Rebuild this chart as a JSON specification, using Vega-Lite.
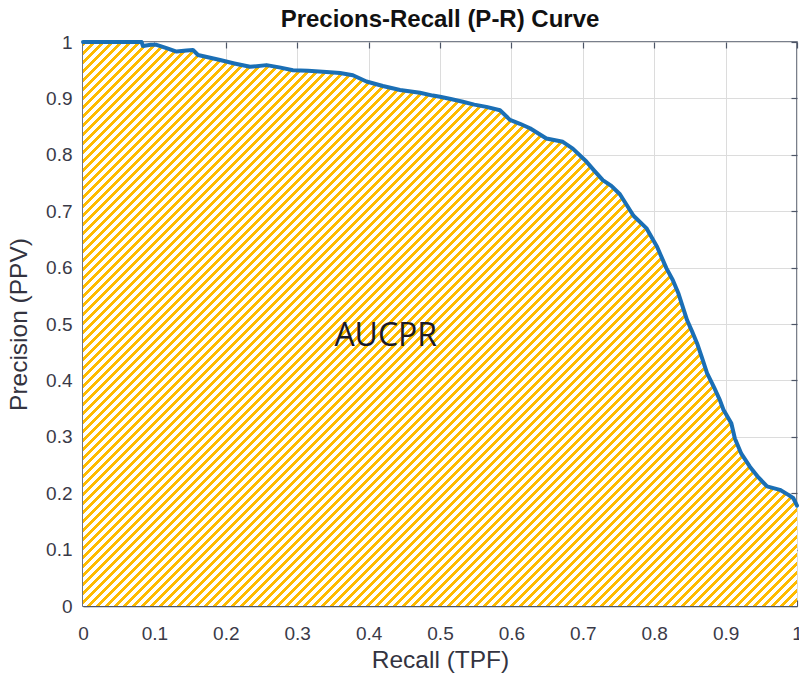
{
"$schema": "https://vega.github.io/schema/vega-lite/v6.json",
"width": 714, "height": 564,
"autosize": "none",
"padding": {"left": 83, "top": 42, "right": 2, "bottom": 69},
"background": "white",
"title": {"text": "Precions-Recall (P-R) Curve", "fontSize": 24, "font": "Liberation Sans", "fontWeight": "bold", "color": "#111111", "offset": 1, "dy": 24, "anchor": "middle", "baseline": "bottom"},
"config": {"view": {"stroke": "#4d5566", "strokeWidth": 1.5}},
"data": {"values": [
{"recall":0,"precision":1},{"recall":0.04,"precision":1},{"recall":0.082,"precision":1},{"recall":0.084,"precision":0.993},{"recall":0.095,"precision":0.995},{"recall":0.103,"precision":0.995},{"recall":0.117,"precision":0.989},{"recall":0.131,"precision":0.983},{"recall":0.145,"precision":0.985},{"recall":0.154,"precision":0.986},{"recall":0.161,"precision":0.977},{"recall":0.175,"precision":0.973},{"recall":0.192,"precision":0.968},{"recall":0.212,"precision":0.962},{"recall":0.234,"precision":0.956},{"recall":0.257,"precision":0.959},{"recall":0.275,"precision":0.955},{"recall":0.294,"precision":0.95},{"recall":0.315,"precision":0.949},{"recall":0.341,"precision":0.947},{"recall":0.36,"precision":0.945},{"recall":0.378,"precision":0.941},{"recall":0.397,"precision":0.93},{"recall":0.42,"precision":0.922},{"recall":0.444,"precision":0.915},{"recall":0.472,"precision":0.91},{"recall":0.49,"precision":0.905},{"recall":0.5,"precision":0.903},{"recall":0.515,"precision":0.899},{"recall":0.532,"precision":0.894},{"recall":0.548,"precision":0.889},{"recall":0.565,"precision":0.885},{"recall":0.584,"precision":0.879},{"recall":0.598,"precision":0.862},{"recall":0.612,"precision":0.855},{"recall":0.626,"precision":0.847},{"recall":0.649,"precision":0.829},{"recall":0.672,"precision":0.823},{"recall":0.686,"precision":0.811},{"recall":0.705,"precision":0.788},{"recall":0.716,"precision":0.772},{"recall":0.728,"precision":0.755},{"recall":0.74,"precision":0.745},{"recall":0.752,"precision":0.73},{"recall":0.771,"precision":0.692},{"recall":0.789,"precision":0.67},{"recall":0.804,"precision":0.637},{"recall":0.817,"precision":0.599},{"recall":0.826,"precision":0.578},{"recall":0.834,"precision":0.554},{"recall":0.846,"precision":0.507},{"recall":0.853,"precision":0.487},{"recall":0.86,"precision":0.466},{"recall":0.867,"precision":0.44},{"recall":0.874,"precision":0.413},{"recall":0.884,"precision":0.387},{"recall":0.892,"precision":0.365},{"recall":0.897,"precision":0.348},{"recall":0.908,"precision":0.324},{"recall":0.913,"precision":0.297},{"recall":0.922,"precision":0.27},{"recall":0.934,"precision":0.247},{"recall":0.946,"precision":0.228},{"recall":0.958,"precision":0.212},{"recall":0.976,"precision":0.206},{"recall":0.988,"precision":0.197},{"recall":0.995,"precision":0.191},{"recall":1,"precision":0.178}
]},
"layer": [
{
"mark": {"type": "area", "interpolate": "linear", "color": {"gradient": "linear", "x1": 0, "y1": 0, "x2": 1.109, "y2": 0.876, "stops": [
{"offset":0,"color":"#fb0"},{"offset":0.0035,"color":"#fb0"},{"offset":0.0035,"color":"#fff"},{"offset":0.007,"color":"#fff"},
{"offset":0.007,"color":"#fb0"},{"offset":0.0105,"color":"#fb0"},{"offset":0.0105,"color":"#fff"},{"offset":0.014,"color":"#fff"},
{"offset":0.014,"color":"#fb0"},{"offset":0.0175,"color":"#fb0"},{"offset":0.0175,"color":"#fff"},{"offset":0.021,"color":"#fff"},
{"offset":0.021,"color":"#fb0"},{"offset":0.0245,"color":"#fb0"},{"offset":0.0245,"color":"#fff"},{"offset":0.028,"color":"#fff"},
{"offset":0.028,"color":"#fb0"},{"offset":0.0315,"color":"#fb0"},{"offset":0.0315,"color":"#fff"},{"offset":0.035,"color":"#fff"},
{"offset":0.035,"color":"#fb0"},{"offset":0.0385,"color":"#fb0"},{"offset":0.0385,"color":"#fff"},{"offset":0.042,"color":"#fff"},
{"offset":0.042,"color":"#fb0"},{"offset":0.0455,"color":"#fb0"},{"offset":0.0455,"color":"#fff"},{"offset":0.049,"color":"#fff"},
{"offset":0.049,"color":"#fb0"},{"offset":0.0525,"color":"#fb0"},{"offset":0.0525,"color":"#fff"},{"offset":0.056,"color":"#fff"},
{"offset":0.056,"color":"#fb0"},{"offset":0.0595,"color":"#fb0"},{"offset":0.0595,"color":"#fff"},{"offset":0.063,"color":"#fff"},
{"offset":0.063,"color":"#fb0"},{"offset":0.0665,"color":"#fb0"},{"offset":0.0665,"color":"#fff"},{"offset":0.07,"color":"#fff"},
{"offset":0.07,"color":"#fb0"},{"offset":0.0735,"color":"#fb0"},{"offset":0.0735,"color":"#fff"},{"offset":0.077,"color":"#fff"},
{"offset":0.077,"color":"#fb0"},{"offset":0.0805,"color":"#fb0"},{"offset":0.0805,"color":"#fff"},{"offset":0.084,"color":"#fff"},
{"offset":0.084,"color":"#fb0"},{"offset":0.0875,"color":"#fb0"},{"offset":0.0875,"color":"#fff"},{"offset":0.091,"color":"#fff"},
{"offset":0.091,"color":"#fb0"},{"offset":0.0945,"color":"#fb0"},{"offset":0.0945,"color":"#fff"},{"offset":0.098,"color":"#fff"},
{"offset":0.098,"color":"#fb0"},{"offset":0.1015,"color":"#fb0"},{"offset":0.1015,"color":"#fff"},{"offset":0.105,"color":"#fff"},
{"offset":0.105,"color":"#fb0"},{"offset":0.1085,"color":"#fb0"},{"offset":0.1085,"color":"#fff"},{"offset":0.112,"color":"#fff"},
{"offset":0.112,"color":"#fb0"},{"offset":0.1155,"color":"#fb0"},{"offset":0.1155,"color":"#fff"},{"offset":0.119,"color":"#fff"},
{"offset":0.119,"color":"#fb0"},{"offset":0.1225,"color":"#fb0"},{"offset":0.1225,"color":"#fff"},{"offset":0.126,"color":"#fff"},
{"offset":0.126,"color":"#fb0"},{"offset":0.1295,"color":"#fb0"},{"offset":0.1295,"color":"#fff"},{"offset":0.133,"color":"#fff"},
{"offset":0.133,"color":"#fb0"},{"offset":0.1365,"color":"#fb0"},{"offset":0.1365,"color":"#fff"},{"offset":0.14,"color":"#fff"},
{"offset":0.14,"color":"#fb0"},{"offset":0.1435,"color":"#fb0"},{"offset":0.1435,"color":"#fff"},{"offset":0.147,"color":"#fff"},
{"offset":0.147,"color":"#fb0"},{"offset":0.1505,"color":"#fb0"},{"offset":0.1505,"color":"#fff"},{"offset":0.154,"color":"#fff"},
{"offset":0.154,"color":"#fb0"},{"offset":0.1575,"color":"#fb0"},{"offset":0.1575,"color":"#fff"},{"offset":0.161,"color":"#fff"},
{"offset":0.161,"color":"#fb0"},{"offset":0.1645,"color":"#fb0"},{"offset":0.1645,"color":"#fff"},{"offset":0.168,"color":"#fff"},
{"offset":0.168,"color":"#fb0"},{"offset":0.1715,"color":"#fb0"},{"offset":0.1715,"color":"#fff"},{"offset":0.175,"color":"#fff"},
{"offset":0.175,"color":"#fb0"},{"offset":0.1785,"color":"#fb0"},{"offset":0.1785,"color":"#fff"},{"offset":0.182,"color":"#fff"},
{"offset":0.182,"color":"#fb0"},{"offset":0.1855,"color":"#fb0"},{"offset":0.1855,"color":"#fff"},{"offset":0.189,"color":"#fff"},
{"offset":0.189,"color":"#fb0"},{"offset":0.1925,"color":"#fb0"},{"offset":0.1925,"color":"#fff"},{"offset":0.196,"color":"#fff"},
{"offset":0.196,"color":"#fb0"},{"offset":0.1995,"color":"#fb0"},{"offset":0.1995,"color":"#fff"},{"offset":0.203,"color":"#fff"},
{"offset":0.203,"color":"#fb0"},{"offset":0.2065,"color":"#fb0"},{"offset":0.2065,"color":"#fff"},{"offset":0.21,"color":"#fff"},
{"offset":0.21,"color":"#fb0"},{"offset":0.2135,"color":"#fb0"},{"offset":0.2135,"color":"#fff"},{"offset":0.217,"color":"#fff"},
{"offset":0.217,"color":"#fb0"},{"offset":0.2205,"color":"#fb0"},{"offset":0.2205,"color":"#fff"},{"offset":0.224,"color":"#fff"},
{"offset":0.224,"color":"#fb0"},{"offset":0.2275,"color":"#fb0"},{"offset":0.2275,"color":"#fff"},{"offset":0.231,"color":"#fff"},
{"offset":0.231,"color":"#fb0"},{"offset":0.2345,"color":"#fb0"},{"offset":0.2345,"color":"#fff"},{"offset":0.238,"color":"#fff"},
{"offset":0.238,"color":"#fb0"},{"offset":0.2415,"color":"#fb0"},{"offset":0.2415,"color":"#fff"},{"offset":0.245,"color":"#fff"},
{"offset":0.245,"color":"#fb0"},{"offset":0.2485,"color":"#fb0"},{"offset":0.2485,"color":"#fff"},{"offset":0.252,"color":"#fff"},
{"offset":0.252,"color":"#fb0"},{"offset":0.2555,"color":"#fb0"},{"offset":0.2555,"color":"#fff"},{"offset":0.259,"color":"#fff"},
{"offset":0.259,"color":"#fb0"},{"offset":0.2625,"color":"#fb0"},{"offset":0.2625,"color":"#fff"},{"offset":0.266,"color":"#fff"},
{"offset":0.266,"color":"#fb0"},{"offset":0.2695,"color":"#fb0"},{"offset":0.2695,"color":"#fff"},{"offset":0.273,"color":"#fff"},
{"offset":0.273,"color":"#fb0"},{"offset":0.2765,"color":"#fb0"},{"offset":0.2765,"color":"#fff"},{"offset":0.28,"color":"#fff"},
{"offset":0.28,"color":"#fb0"},{"offset":0.2835,"color":"#fb0"},{"offset":0.2835,"color":"#fff"},{"offset":0.287,"color":"#fff"},
{"offset":0.287,"color":"#fb0"},{"offset":0.2905,"color":"#fb0"},{"offset":0.2905,"color":"#fff"},{"offset":0.294,"color":"#fff"},
{"offset":0.294,"color":"#fb0"},{"offset":0.2975,"color":"#fb0"},{"offset":0.2975,"color":"#fff"},{"offset":0.301,"color":"#fff"},
{"offset":0.301,"color":"#fb0"},{"offset":0.3045,"color":"#fb0"},{"offset":0.3045,"color":"#fff"},{"offset":0.308,"color":"#fff"},
{"offset":0.308,"color":"#fb0"},{"offset":0.3115,"color":"#fb0"},{"offset":0.3115,"color":"#fff"},{"offset":0.315,"color":"#fff"},
{"offset":0.315,"color":"#fb0"},{"offset":0.3185,"color":"#fb0"},{"offset":0.3185,"color":"#fff"},{"offset":0.322,"color":"#fff"},
{"offset":0.322,"color":"#fb0"},{"offset":0.3255,"color":"#fb0"},{"offset":0.3255,"color":"#fff"},{"offset":0.329,"color":"#fff"},
{"offset":0.329,"color":"#fb0"},{"offset":0.3325,"color":"#fb0"},{"offset":0.3325,"color":"#fff"},{"offset":0.336,"color":"#fff"},
{"offset":0.336,"color":"#fb0"},{"offset":0.3395,"color":"#fb0"},{"offset":0.3395,"color":"#fff"},{"offset":0.343,"color":"#fff"},
{"offset":0.343,"color":"#fb0"},{"offset":0.3465,"color":"#fb0"},{"offset":0.3465,"color":"#fff"},{"offset":0.35,"color":"#fff"},
{"offset":0.35,"color":"#fb0"},{"offset":0.3535,"color":"#fb0"},{"offset":0.3535,"color":"#fff"},{"offset":0.357,"color":"#fff"},
{"offset":0.357,"color":"#fb0"},{"offset":0.3605,"color":"#fb0"},{"offset":0.3605,"color":"#fff"},{"offset":0.364,"color":"#fff"},
{"offset":0.364,"color":"#fb0"},{"offset":0.3675,"color":"#fb0"},{"offset":0.3675,"color":"#fff"},{"offset":0.371,"color":"#fff"},
{"offset":0.371,"color":"#fb0"},{"offset":0.3745,"color":"#fb0"},{"offset":0.3745,"color":"#fff"},{"offset":0.378,"color":"#fff"},
{"offset":0.378,"color":"#fb0"},{"offset":0.3815,"color":"#fb0"},{"offset":0.3815,"color":"#fff"},{"offset":0.385,"color":"#fff"},
{"offset":0.385,"color":"#fb0"},{"offset":0.3885,"color":"#fb0"},{"offset":0.3885,"color":"#fff"},{"offset":0.392,"color":"#fff"},
{"offset":0.392,"color":"#fb0"},{"offset":0.3955,"color":"#fb0"},{"offset":0.3955,"color":"#fff"},{"offset":0.399,"color":"#fff"},
{"offset":0.399,"color":"#fb0"},{"offset":0.4025,"color":"#fb0"},{"offset":0.4025,"color":"#fff"},{"offset":0.406,"color":"#fff"},
{"offset":0.406,"color":"#fb0"},{"offset":0.4095,"color":"#fb0"},{"offset":0.4095,"color":"#fff"},{"offset":0.413,"color":"#fff"},
{"offset":0.413,"color":"#fb0"},{"offset":0.4165,"color":"#fb0"},{"offset":0.4165,"color":"#fff"},{"offset":0.42,"color":"#fff"},
{"offset":0.42,"color":"#fb0"},{"offset":0.4235,"color":"#fb0"},{"offset":0.4235,"color":"#fff"},{"offset":0.427,"color":"#fff"},
{"offset":0.427,"color":"#fb0"},{"offset":0.4305,"color":"#fb0"},{"offset":0.4305,"color":"#fff"},{"offset":0.434,"color":"#fff"},
{"offset":0.434,"color":"#fb0"},{"offset":0.4375,"color":"#fb0"},{"offset":0.4375,"color":"#fff"},{"offset":0.441,"color":"#fff"},
{"offset":0.441,"color":"#fb0"},{"offset":0.4445,"color":"#fb0"},{"offset":0.4445,"color":"#fff"},{"offset":0.448,"color":"#fff"},
{"offset":0.448,"color":"#fb0"},{"offset":0.4515,"color":"#fb0"},{"offset":0.4515,"color":"#fff"},{"offset":0.455,"color":"#fff"},
{"offset":0.455,"color":"#fb0"},{"offset":0.4585,"color":"#fb0"},{"offset":0.4585,"color":"#fff"},{"offset":0.462,"color":"#fff"},
{"offset":0.462,"color":"#fb0"},{"offset":0.4655,"color":"#fb0"},{"offset":0.4655,"color":"#fff"},{"offset":0.469,"color":"#fff"},
{"offset":0.469,"color":"#fb0"},{"offset":0.4725,"color":"#fb0"},{"offset":0.4725,"color":"#fff"},{"offset":0.476,"color":"#fff"},
{"offset":0.476,"color":"#fb0"},{"offset":0.4795,"color":"#fb0"},{"offset":0.4795,"color":"#fff"},{"offset":0.483,"color":"#fff"},
{"offset":0.483,"color":"#fb0"},{"offset":0.4865,"color":"#fb0"},{"offset":0.4865,"color":"#fff"},{"offset":0.49,"color":"#fff"},
{"offset":0.49,"color":"#fb0"},{"offset":0.4935,"color":"#fb0"},{"offset":0.4935,"color":"#fff"},{"offset":0.497,"color":"#fff"},
{"offset":0.497,"color":"#fb0"},{"offset":0.5005,"color":"#fb0"},{"offset":0.5005,"color":"#fff"},{"offset":0.504,"color":"#fff"},
{"offset":0.504,"color":"#fb0"},{"offset":0.5075,"color":"#fb0"},{"offset":0.5075,"color":"#fff"},{"offset":0.511,"color":"#fff"},
{"offset":0.511,"color":"#fb0"},{"offset":0.5145,"color":"#fb0"},{"offset":0.5145,"color":"#fff"},{"offset":0.518,"color":"#fff"},
{"offset":0.518,"color":"#fb0"},{"offset":0.5215,"color":"#fb0"},{"offset":0.5215,"color":"#fff"},{"offset":0.525,"color":"#fff"},
{"offset":0.525,"color":"#fb0"},{"offset":0.5285,"color":"#fb0"},{"offset":0.5285,"color":"#fff"},{"offset":0.532,"color":"#fff"},
{"offset":0.532,"color":"#fb0"},{"offset":0.5355,"color":"#fb0"},{"offset":0.5355,"color":"#fff"},{"offset":0.539,"color":"#fff"},
{"offset":0.539,"color":"#fb0"},{"offset":0.5425,"color":"#fb0"},{"offset":0.5425,"color":"#fff"},{"offset":0.546,"color":"#fff"},
{"offset":0.546,"color":"#fb0"},{"offset":0.5495,"color":"#fb0"},{"offset":0.5495,"color":"#fff"},{"offset":0.553,"color":"#fff"},
{"offset":0.553,"color":"#fb0"},{"offset":0.5565,"color":"#fb0"},{"offset":0.5565,"color":"#fff"},{"offset":0.56,"color":"#fff"},
{"offset":0.56,"color":"#fb0"},{"offset":0.5635,"color":"#fb0"},{"offset":0.5635,"color":"#fff"},{"offset":0.567,"color":"#fff"},
{"offset":0.567,"color":"#fb0"},{"offset":0.5705,"color":"#fb0"},{"offset":0.5705,"color":"#fff"},{"offset":0.574,"color":"#fff"},
{"offset":0.574,"color":"#fb0"},{"offset":0.5775,"color":"#fb0"},{"offset":0.5775,"color":"#fff"},{"offset":0.581,"color":"#fff"},
{"offset":0.581,"color":"#fb0"},{"offset":0.5845,"color":"#fb0"},{"offset":0.5845,"color":"#fff"},{"offset":0.588,"color":"#fff"},
{"offset":0.588,"color":"#fb0"},{"offset":0.5915,"color":"#fb0"},{"offset":0.5915,"color":"#fff"},{"offset":0.595,"color":"#fff"},
{"offset":0.595,"color":"#fb0"},{"offset":0.5985,"color":"#fb0"},{"offset":0.5985,"color":"#fff"},{"offset":0.602,"color":"#fff"},
{"offset":0.602,"color":"#fb0"},{"offset":0.6055,"color":"#fb0"},{"offset":0.6055,"color":"#fff"},{"offset":0.609,"color":"#fff"},
{"offset":0.609,"color":"#fb0"},{"offset":0.6125,"color":"#fb0"},{"offset":0.6125,"color":"#fff"},{"offset":0.616,"color":"#fff"},
{"offset":0.616,"color":"#fb0"},{"offset":0.6195,"color":"#fb0"},{"offset":0.6195,"color":"#fff"},{"offset":0.623,"color":"#fff"},
{"offset":0.623,"color":"#fb0"},{"offset":0.6265,"color":"#fb0"},{"offset":0.6265,"color":"#fff"},{"offset":0.63,"color":"#fff"},
{"offset":0.63,"color":"#fb0"},{"offset":0.6335,"color":"#fb0"},{"offset":0.6335,"color":"#fff"},{"offset":0.637,"color":"#fff"},
{"offset":0.637,"color":"#fb0"},{"offset":0.6405,"color":"#fb0"},{"offset":0.6405,"color":"#fff"},{"offset":0.644,"color":"#fff"},
{"offset":0.644,"color":"#fb0"},{"offset":0.6475,"color":"#fb0"},{"offset":0.6475,"color":"#fff"},{"offset":0.651,"color":"#fff"},
{"offset":0.651,"color":"#fb0"},{"offset":0.6545,"color":"#fb0"},{"offset":0.6545,"color":"#fff"},{"offset":0.658,"color":"#fff"},
{"offset":0.658,"color":"#fb0"},{"offset":0.6615,"color":"#fb0"},{"offset":0.6615,"color":"#fff"},{"offset":0.665,"color":"#fff"},
{"offset":0.665,"color":"#fb0"},{"offset":0.6685,"color":"#fb0"},{"offset":0.6685,"color":"#fff"},{"offset":0.672,"color":"#fff"},
{"offset":0.672,"color":"#fb0"},{"offset":0.6755,"color":"#fb0"},{"offset":0.6755,"color":"#fff"},{"offset":0.679,"color":"#fff"},
{"offset":0.679,"color":"#fb0"},{"offset":0.6825,"color":"#fb0"},{"offset":0.6825,"color":"#fff"},{"offset":0.686,"color":"#fff"},
{"offset":0.686,"color":"#fb0"},{"offset":0.6895,"color":"#fb0"},{"offset":0.6895,"color":"#fff"},{"offset":0.693,"color":"#fff"},
{"offset":0.693,"color":"#fb0"},{"offset":0.6965,"color":"#fb0"},{"offset":0.6965,"color":"#fff"},{"offset":0.7,"color":"#fff"},
{"offset":0.7,"color":"#fb0"},{"offset":0.7035,"color":"#fb0"},{"offset":0.7035,"color":"#fff"},{"offset":0.707,"color":"#fff"},
{"offset":0.707,"color":"#fb0"},{"offset":0.7105,"color":"#fb0"},{"offset":0.7105,"color":"#fff"},{"offset":0.714,"color":"#fff"},
{"offset":0.714,"color":"#fb0"},{"offset":0.7175,"color":"#fb0"},{"offset":0.7175,"color":"#fff"},{"offset":0.721,"color":"#fff"},
{"offset":0.721,"color":"#fb0"},{"offset":0.7245,"color":"#fb0"},{"offset":0.7245,"color":"#fff"},{"offset":0.728,"color":"#fff"},
{"offset":0.728,"color":"#fb0"},{"offset":0.7315,"color":"#fb0"},{"offset":0.7315,"color":"#fff"},{"offset":0.735,"color":"#fff"},
{"offset":0.735,"color":"#fb0"},{"offset":0.7385,"color":"#fb0"},{"offset":0.7385,"color":"#fff"},{"offset":0.742,"color":"#fff"},
{"offset":0.742,"color":"#fb0"},{"offset":0.7455,"color":"#fb0"},{"offset":0.7455,"color":"#fff"},{"offset":0.749,"color":"#fff"},
{"offset":0.749,"color":"#fb0"},{"offset":0.7525,"color":"#fb0"},{"offset":0.7525,"color":"#fff"},{"offset":0.756,"color":"#fff"},
{"offset":0.756,"color":"#fb0"},{"offset":0.7595,"color":"#fb0"},{"offset":0.7595,"color":"#fff"},{"offset":0.763,"color":"#fff"},
{"offset":0.763,"color":"#fb0"},{"offset":0.7665,"color":"#fb0"},{"offset":0.7665,"color":"#fff"},{"offset":0.77,"color":"#fff"},
{"offset":0.77,"color":"#fb0"},{"offset":0.7735,"color":"#fb0"},{"offset":0.7735,"color":"#fff"},{"offset":0.777,"color":"#fff"},
{"offset":0.777,"color":"#fb0"},{"offset":0.7805,"color":"#fb0"},{"offset":0.7805,"color":"#fff"},{"offset":0.784,"color":"#fff"},
{"offset":0.784,"color":"#fb0"},{"offset":0.7875,"color":"#fb0"},{"offset":0.7875,"color":"#fff"},{"offset":0.791,"color":"#fff"},
{"offset":0.791,"color":"#fb0"},{"offset":0.7945,"color":"#fb0"},{"offset":0.7945,"color":"#fff"},{"offset":0.798,"color":"#fff"},
{"offset":0.798,"color":"#fb0"},{"offset":0.8015,"color":"#fb0"},{"offset":0.8015,"color":"#fff"},{"offset":0.805,"color":"#fff"},
{"offset":0.805,"color":"#fb0"},{"offset":0.8085,"color":"#fb0"},{"offset":0.8085,"color":"#fff"},{"offset":0.812,"color":"#fff"},
{"offset":0.812,"color":"#fb0"},{"offset":0.8155,"color":"#fb0"},{"offset":0.8155,"color":"#fff"},{"offset":0.819,"color":"#fff"},
{"offset":0.819,"color":"#fb0"},{"offset":0.8225,"color":"#fb0"},{"offset":0.8225,"color":"#fff"},{"offset":0.826,"color":"#fff"},
{"offset":0.826,"color":"#fb0"},{"offset":0.8295,"color":"#fb0"},{"offset":0.8295,"color":"#fff"},{"offset":0.833,"color":"#fff"},
{"offset":0.833,"color":"#fb0"},{"offset":0.8365,"color":"#fb0"},{"offset":0.8365,"color":"#fff"},{"offset":0.84,"color":"#fff"},
{"offset":0.84,"color":"#fb0"},{"offset":0.8435,"color":"#fb0"},{"offset":0.8435,"color":"#fff"},{"offset":0.847,"color":"#fff"},
{"offset":0.847,"color":"#fb0"},{"offset":0.8505,"color":"#fb0"},{"offset":0.8505,"color":"#fff"},{"offset":0.854,"color":"#fff"},
{"offset":0.854,"color":"#fb0"},{"offset":0.8575,"color":"#fb0"},{"offset":0.8575,"color":"#fff"},{"offset":0.861,"color":"#fff"},
{"offset":0.861,"color":"#fb0"},{"offset":0.8645,"color":"#fb0"},{"offset":0.8645,"color":"#fff"},{"offset":0.868,"color":"#fff"},
{"offset":0.868,"color":"#fb0"},{"offset":0.8715,"color":"#fb0"},{"offset":0.8715,"color":"#fff"},{"offset":0.875,"color":"#fff"},
{"offset":0.875,"color":"#fb0"},{"offset":0.8785,"color":"#fb0"},{"offset":0.8785,"color":"#fff"},{"offset":0.882,"color":"#fff"},
{"offset":0.882,"color":"#fb0"},{"offset":0.8855,"color":"#fb0"},{"offset":0.8855,"color":"#fff"},{"offset":0.889,"color":"#fff"},
{"offset":0.889,"color":"#fb0"},{"offset":0.8925,"color":"#fb0"},{"offset":0.8925,"color":"#fff"},{"offset":0.896,"color":"#fff"},
{"offset":0.896,"color":"#fb0"},{"offset":0.8995,"color":"#fb0"},{"offset":0.8995,"color":"#fff"},{"offset":0.903,"color":"#fff"},
{"offset":0.903,"color":"#fb0"},{"offset":0.9065,"color":"#fb0"},{"offset":0.9065,"color":"#fff"},{"offset":0.91,"color":"#fff"},
{"offset":0.91,"color":"#fb0"},{"offset":0.9135,"color":"#fb0"},{"offset":0.9135,"color":"#fff"},{"offset":0.917,"color":"#fff"},
{"offset":0.917,"color":"#fb0"},{"offset":0.9205,"color":"#fb0"},{"offset":0.9205,"color":"#fff"},{"offset":0.924,"color":"#fff"},
{"offset":0.924,"color":"#fb0"},{"offset":0.9275,"color":"#fb0"},{"offset":0.9275,"color":"#fff"},{"offset":0.931,"color":"#fff"},
{"offset":0.931,"color":"#fb0"},{"offset":0.9345,"color":"#fb0"},{"offset":0.9345,"color":"#fff"},{"offset":0.938,"color":"#fff"},
{"offset":0.938,"color":"#fb0"},{"offset":0.9415,"color":"#fb0"},{"offset":0.9415,"color":"#fff"},{"offset":0.945,"color":"#fff"},
{"offset":0.945,"color":"#fb0"},{"offset":0.9485,"color":"#fb0"},{"offset":0.9485,"color":"#fff"},{"offset":0.952,"color":"#fff"},
{"offset":0.952,"color":"#fb0"},{"offset":0.9555,"color":"#fb0"},{"offset":0.9555,"color":"#fff"},{"offset":0.959,"color":"#fff"},
{"offset":0.959,"color":"#fb0"},{"offset":0.9625,"color":"#fb0"},{"offset":0.9625,"color":"#fff"},{"offset":0.966,"color":"#fff"},
{"offset":0.966,"color":"#fb0"},{"offset":0.9695,"color":"#fb0"},{"offset":0.9695,"color":"#fff"},{"offset":0.973,"color":"#fff"},
{"offset":0.973,"color":"#fb0"},{"offset":0.9765,"color":"#fb0"},{"offset":0.9765,"color":"#fff"},{"offset":0.98,"color":"#fff"},
{"offset":0.98,"color":"#fb0"},{"offset":0.9835,"color":"#fb0"},{"offset":0.9835,"color":"#fff"},{"offset":0.987,"color":"#fff"},
{"offset":0.987,"color":"#fb0"},{"offset":0.9905,"color":"#fb0"},{"offset":0.9905,"color":"#fff"},{"offset":0.994,"color":"#fff"},
{"offset":0.994,"color":"#fb0"},{"offset":0.9975,"color":"#fb0"},{"offset":0.9975,"color":"#fff"},{"offset":1,"color":"#fff"}
]}},
"encoding": {
"x": {"field": "recall", "type": "quantitative", "scale": {"domain": [0, 1], "nice": false, "zero": false},
 "axis": {"orient": "bottom", "values": [0,0.1,0.2,0.3,0.4,0.5,0.6,0.7,0.8,0.9,1], "format": "~g", "grid": true, "gridColor": "#dcdcdc", "gridWidth": 1, "tickSize": -6, "tickColor": "#4d5566", "tickWidth": 1.2, "domainColor": "#4d5566", "domainWidth": 1.5, "labelFont": "Liberation Sans", "labelFontSize": 19, "labelColor": "#3a3a48", "labelPadding": 24, "labelFlush": false, "labelOverlap": false, "title": "Recall (TPF)", "titleFont": "Liberation Sans", "titleFontSize": 24.5, "titleFontWeight": "normal", "titleColor": "#333340", "titlePadding": 5}},
"y": {"field": "precision", "type": "quantitative", "scale": {"domain": [0, 1], "nice": false},
 "axis": {"orient": "left", "values": [0,0.1,0.2,0.3,0.4,0.5,0.6,0.7,0.8,0.9,1], "format": "~g", "grid": true, "gridColor": "#dcdcdc", "gridWidth": 1, "tickSize": -6, "tickColor": "#4d5566", "tickWidth": 1.2, "domainColor": "#4d5566", "domainWidth": 1.5, "labelFont": "Liberation Sans", "labelFontSize": 19, "labelColor": "#3a3a48", "labelPadding": 17, "labelFlush": false, "labelOverlap": false, "title": "Precision (PPV)", "titleFont": "Liberation Sans", "titleFontSize": 24.5, "titleFontWeight": "normal", "titleColor": "#333340", "titlePadding": 14}}
}
},
{
"mark": {"type": "line", "interpolate": "linear", "color": "#1b6fb5", "strokeWidth": 4, "strokeJoin": "round", "strokeCap": "round"},
"encoding": {
"x": {"field": "recall", "type": "quantitative", "scale": {"domain": [0, 1], "nice": false, "zero": false},
 "axis": {"orient": "top", "values": [0,0.1,0.2,0.3,0.4,0.5,0.6,0.7,0.8,0.9,1], "grid": false, "labels": false, "domain": false, "tickSize": -6, "tickColor": "#4d5566", "tickWidth": 1.2, "title": null}},
"y": {"field": "precision", "type": "quantitative", "scale": {"domain": [0, 1], "nice": false},
 "axis": {"orient": "right", "values": [0,0.1,0.2,0.3,0.4,0.5,0.6,0.7,0.8,0.9,1], "grid": false, "labels": false, "domain": false, "tickSize": -6, "tickColor": "#4d5566", "tickWidth": 1.2, "title": null}}
}
},
{
"data": {"values": [{"label": "AUCPR", "recall": 0.424, "precision": 0.478}]},
"mark": {"type": "text", "font": "Open Sans", "fontSize": 32, "color": "#1a1a2a", "align": "center", "baseline": "middle"},
"encoding": {
"x": {"field": "recall", "type": "quantitative", "scale": {"domain": [0, 1], "nice": false, "zero": false}, "axis": null},
"y": {"field": "precision", "type": "quantitative", "scale": {"domain": [0, 1], "nice": false}, "axis": null},
"text": {"field": "label"}
}
}
],
"resolve": {"axis": {"x": "independent", "y": "independent"}}
}
